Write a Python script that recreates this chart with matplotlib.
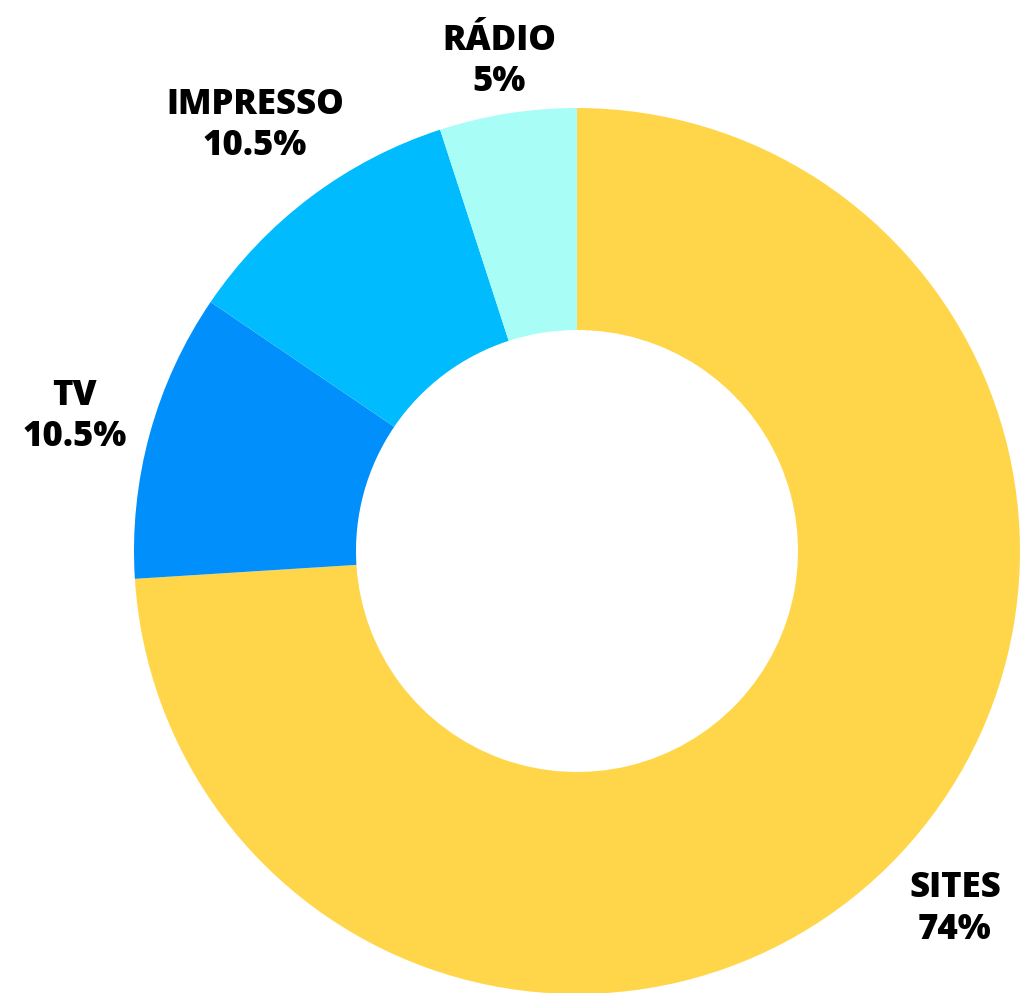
import numpy as np
import matplotlib.pyplot as plt

# data
labels = ["SITES", "TV", "IMPRESSO", "RÁDIO"]
values = [74, 10.5, 10.5, 5]
pct_text = ["74%", "10.5%", "10.5%", "5%"]
colors = ["#FFD64A", "#008FFB", "#00BCFF", "#A8FDF6"]
label_dist = [1.17, 1.175, 1.21, 1.125]  # label offset from centre, in radii

fig = plt.figure(figsize=(10.23, 9.93), dpi=100)
ax = fig.add_axes([0, 0, 1, 1])

cx, cy, r = 577, 993 - 551, 443
wedges, _ = ax.pie(values, colors=colors, startangle=90, counterclock=False,
                   center=(cx, cy), radius=r, frame=True,
                   wedgeprops=dict(width=r - 221, linewidth=0))
ax.set_xlim(0, 1023)
ax.set_ylim(0, 993)
ax.set_aspect("equal")
ax.axis("off")

for w, lab, pct, d in zip(wedges, labels, pct_text, label_dist):
    ang = np.deg2rad((w.theta1 + w.theta2) / 2)
    x = cx + d * r * np.cos(ang)
    y = cy + d * r * np.sin(ang)
    ax.text(x, y - 3, lab + "\n" + pct, ha="center", va="center",
            fontsize=25, fontweight="heavy", family="Open Sans",
            linespacing=1.2, color="black")

fig.savefig("out.png", dpi=100)
